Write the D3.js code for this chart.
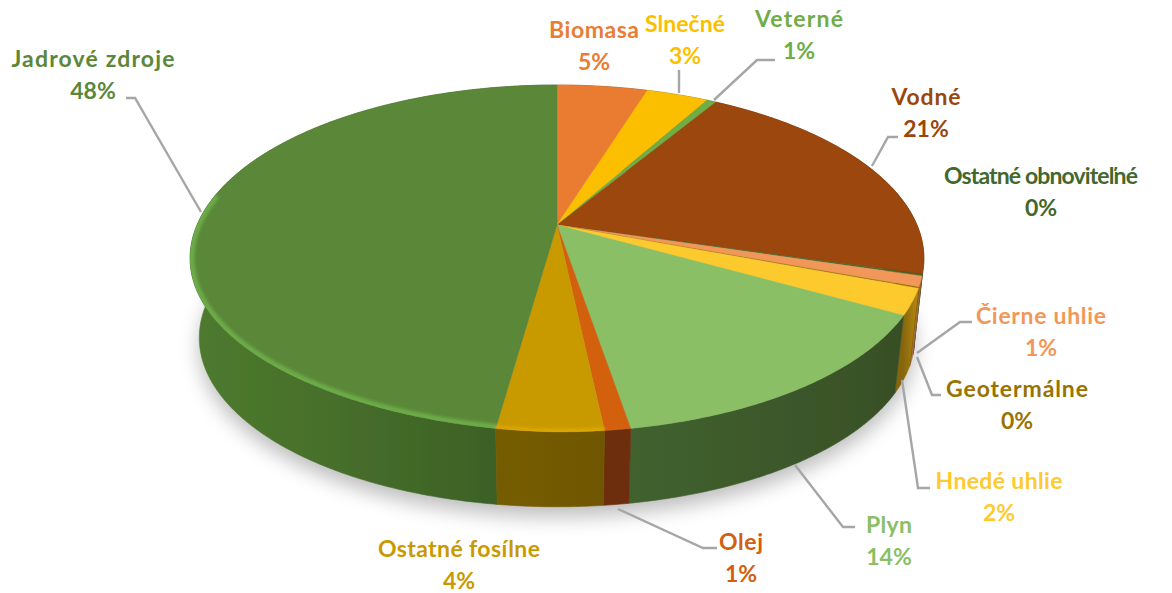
<!DOCTYPE html>
<html><head><meta charset="utf-8">
<style>html,body{margin:0;background:#fff}svg{display:block}text{font-family:Lato,"Noto Sans",sans-serif;font-weight:700;font-size:23px;text-anchor:middle}</style>
<script src="https://cdn.jsdelivr.net/npm/d3@7/dist/d3.min.js"></script></head><body>
<script>
const categories=["Biomasa","Slnečné","Veterné","Vodné","Ostatné obnoviteľné","Čierne uhlie","Geotermálne","Hnedé uhlie","Plyn","Olej","Ostatné fosílne","Jadrové zdroje"];
const values=[4.8,3.3,0.5,20.9,0.15,1,0.1,2.4,14.2,0.95,3.9,47.8];
const colors=["#ea7c33","#fcbf00","#70ad47","#9b470c","#43682b","#f1975a","#997300","#fdca2f","#8abf66","#d2600f","#c99a00","#5a8739"];
const sideLeft=["#8a4a1c","#8f6c00","#3f6128","#6a300a","#2c451c","#a66a3e","#6b5000","#86650f","#41622f","#6c2f08","#765c00","#3a5b25"];
const sideRight=["#8a4a1c","#8f6c00","#3f6128","#5a2a0a","#2c451c","#8a5a35","#6b5000","#b88c12","#384f26","#6c2f08","#705700","#4e7b2e"];
const labelX=[594,685,799,926,1041,1041,1017,999,889,741,459,93];
const labelY=[38,32,27,105,184,324,397,489,533,550,557,67];
const labelWidth=[90,80,88,69,194,130,142,127,46,44,162,163];
const leaders=[null,[[679,70],[679,93]],[[775,60],[757,60],[714,100]],[[898,137],[888,137],[872,166]],null,[[972,322],[960,322],[917,353]],[[941,395],[932,395],[917,357]],[[930,488],[918,488],[902,380]],[[855,527],[843,527],[795,465]],[[717,548],[703,548],[618,509]],null,[[126,98],[135,98],[201,212]]];

const W=1172,H=593;
const cx=557,cy=225,R=360,B=167,C=-0.193,DEPTH=80,SHRINK=0.975,SKEW=8;
const svg=d3.select("body").append("svg").attr("width",W).attr("height",H);
const defs=svg.append("defs");
defs.append("filter").attr("id","soft").attr("x","-5%").attr("y","-5%").attr("width","110%").attr("height","110%").append("feGaussianBlur").attr("stdDeviation",0.7);
defs.append("filter").attr("id","shadow").attr("x","-20%").attr("y","-30%").attr("width","140%").attr("height","160%").append("feGaussianBlur").attr("stdDeviation",10);
defs.append("filter").attr("id","rimblur").attr("x","-5%").attr("y","-5%").attr("width","110%").attr("height","110%").append("feGaussianBlur").attr("stdDeviation",1.5);

const pt=(a,low)=>{const t=-Math.cos(a),x=Math.sin(a),w=1+C*t,s=low?SHRINK:1;
  const lean=(!low&&x<0&&t>0)?SKEW*x*t*t:0;
  return [cx+s*R*x/w,cy+s*B*t/w+(low?DEPTH:0)+lean];};
const samples=(a0,a1)=>{const n=Math.max(2,Math.ceil((a1-a0)/0.01));return d3.range(n+1).map(i=>a0+(a1-a0)*i/n);};
const line=d3.line();
const arcs=d3.pie().sort(null).value(d=>d)(values);

// shadow
const all=samples(0,2*Math.PI);
svg.append("path").attr("d",line(all.map(a=>{const p=pt(a,true);return [p[0],p[1]+10];}))+"Z").attr("fill","#000").attr("opacity",.26).attr("filter","url(#shadow)");

const pie=svg.append("g").attr("filter","url(#soft)");
// sides back to front
const order=d3.range(arcs.length).sort((i,j)=>pt((arcs[i].startAngle+arcs[i].endAngle)/2)[1]-pt((arcs[j].startAngle+arcs[j].endAngle)/2)[1]);
order.forEach(i=>{const d=arcs[i],s=samples(d.startAngle,d.endAngle);
  const top=s.map(a=>pt(a)),bot=s.map(a=>pt(a,true)).reverse();
  const xs=top.map(p=>p[0]);
  const id="side"+i,g=defs.append("linearGradient").attr("id",id).attr("gradientUnits","userSpaceOnUse")
    .attr("x1",d3.min(xs)-1).attr("x2",d3.max(xs)+1).attr("y1",0).attr("y2",0);
  const goesLeft=i===11;
  g.append("stop").attr("offset",0).attr("stop-color",goesLeft?sideRight[i]:sideLeft[i]);
  g.append("stop").attr("offset",1).attr("stop-color",goesLeft?sideLeft[i]:sideRight[i]);
  pie.append("path").attr("d",line(top.concat(bot))+"Z").attr("fill",`url(#${id})`).attr("stroke",`url(#${id})`).attr("stroke-width",.6);
});
// top faces
const topG=pie.append("g");
arcs.forEach((d,i)=>{
  const pts=[[cx,cy]].concat(samples(d.startAngle,d.endAngle).map(a=>pt(a)));
  topG.append("path").attr("d",line(pts)+"Z").attr("fill",colors[i]).attr("stroke",colors[i]).attr("stroke-width",.4);
});
// bevel rim on the front edge
const clip=defs.append("clipPath").attr("id","face");
clip.append("path").attr("d",line(all.map(a=>pt(a)))+"Z");
const rim=pie.append("g").attr("clip-path","url(#face)").append("g").attr("filter","url(#rimblur)");
const iJ=11,iF=10;
rim.append("path").attr("d",line(samples(arcs[iJ].startAngle,arcs[iJ].startAngle+1.62).map(a=>pt(a)))).attr("fill","none").attr("stroke","#6cab47").attr("stroke-width",9);
rim.append("path").attr("d",line(samples(arcs[iF].startAngle,arcs[iF].endAngle).map(a=>pt(a)))).attr("fill","none").attr("stroke","#dca800").attr("stroke-width",6);

// leader lines
svg.append("g").selectAll("path").data(leaders.filter(Boolean)).join("path")
  .attr("d",d=>line(d)).attr("fill","none").attr("stroke","#a6a6a6").attr("stroke-width",2.4);

// labels
const lab=svg.append("g").selectAll("text").data(categories).join("text")
  .attr("fill",(d,i)=>colors[i]);
lab.append("tspan").attr("x",(d,i)=>labelX[i]).attr("y",(d,i)=>labelY[i]).attr("textLength",(d,i)=>labelWidth[i]).attr("lengthAdjust","spacing").text(d=>d);
lab.append("tspan").attr("x",(d,i)=>labelX[i]).attr("y",(d,i)=>labelY[i]+32).text((d,i)=>Math.round(values[i])+"%");
</script></body></html>
